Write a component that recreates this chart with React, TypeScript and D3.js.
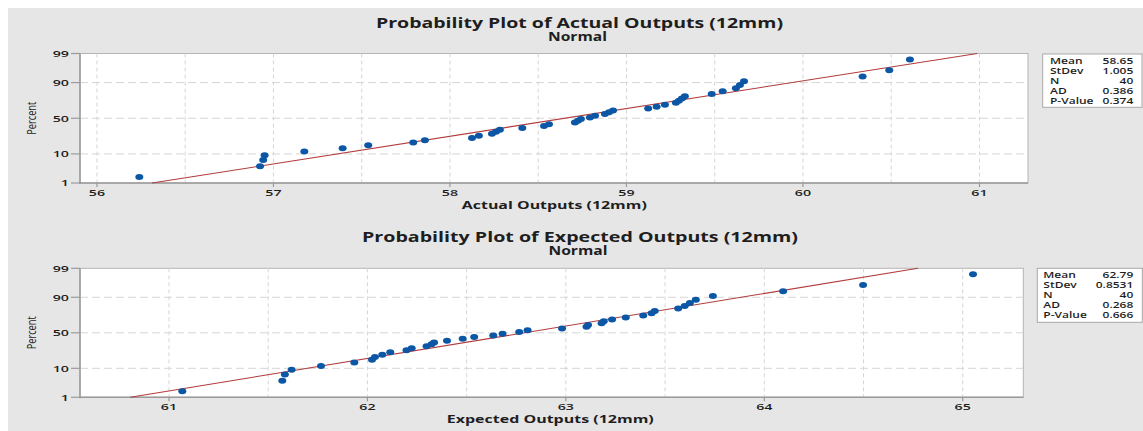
import React from 'react';
import * as d3 from 'd3';

// values (sorted, n = 40 each)
const actualOutputs = [
  56.24, 56.924, 56.942, 56.95, 57.175, 57.392, 57.537, 57.792, 57.858, 58.125,
  58.164, 58.238, 58.261, 58.283, 58.41, 58.533, 58.561, 58.708, 58.725, 58.742,
  58.793, 58.822, 58.878, 58.901, 58.924, 59.123, 59.171, 59.218, 59.28, 59.297,
  59.314, 59.331, 59.483, 59.545, 59.62, 59.643, 59.666, 60.338, 60.489, 60.606,
];
const expectedOutputs = [
  61.067, 61.571, 61.584, 61.618, 61.766, 61.934, 62.023, 62.038, 62.075, 62.115,
  62.197, 62.223, 62.298, 62.323, 62.336, 62.401, 62.48, 62.538, 62.634, 62.681,
  62.765, 62.807, 62.981, 63.104, 63.112, 63.18, 63.191, 63.233, 63.302, 63.39,
  63.432, 63.448, 63.566, 63.599, 63.625, 63.655, 63.741, 64.095, 64.498, 65.052,
];

const percentTicks = [1, 10, 50, 90, 99];
const percentGrid = [10, 50, 90];
const actualTicks = [56, 57, 58, 59, 60, 61];
const expectedTicks = [61, 62, 63, 64, 65];

const statLabels = ['Mean', 'StDev', 'N', 'AD', 'P-Value'];
const actualStats = ['58.65', '1.005', '40', '0.386', '0.374'];
const expectedStats = ['62.79', '0.8531', '40', '0.268', '0.666'];

// Acklam's inverse normal CDF, used for the probability axis
function normInv(p: number) {
  const a = [-3.969683028665376e1, 2.209460984245205e2, -2.759285104469687e2, 1.38357751867269e2, -3.066479806614716e1, 2.506628277459239];
  const b = [-5.447609879822406e1, 1.615858368580409e2, -1.556989798598866e2, 6.680131188771972e1, -1.328068155288572e1];
  const c = [-7.784894002430293e-3, -3.223964580411365e-1, -2.400758277161838, -2.549732539343734, 4.374664141464968, 2.938163982698783];
  const d = [7.784695709041462e-3, 3.224671290700398e-1, 2.445134137142996, 3.754408661907416];
  const pl = 0.02425;
  if (p < pl) {
    const q = Math.sqrt(-2 * Math.log(p));
    return (((((c[0] * q + c[1]) * q + c[2]) * q + c[3]) * q + c[4]) * q + c[5]) / ((((d[0] * q + d[1]) * q + d[2]) * q + d[3]) * q + 1);
  }
  if (p > 1 - pl) {
    const q = Math.sqrt(-2 * Math.log(1 - p));
    return -(((((c[0] * q + c[1]) * q + c[2]) * q + c[3]) * q + c[4]) * q + c[5]) / ((((d[0] * q + d[1]) * q + d[2]) * q + d[3]) * q + 1);
  }
  const q = p - 0.5;
  const r = q * q;
  return ((((((a[0] * r + a[1]) * r + a[2]) * r + a[3]) * r + a[4]) * r + a[5]) * q) / (((((b[0] * r + b[1]) * r + b[2]) * r + b[3]) * r + b[4]) * r + 1);
}

const FONT = "'Open Sans', 'DejaVu Sans', sans-serif";
const INK = '#1e1e1e';

// small text drawn wider than normal, like the stretched screenshot
const SText = ({ x, y, sx = 1.5, size, anchor = 'start', weight = 600, children }: any) => (
  <text
    transform={`translate(${x},${y}) scale(${sx},1)`}
    fontSize={size}
    fontWeight={weight}
    fontFamily={FONT}
    textAnchor={anchor}
    fill={INK}
  >
    {children}
  </text>
);

const ProbPlot = ({ data, ticks, stats, domain, plot, title, xLabel, lay }: any) => {
  const x = d3.scaleLinear().domain(domain).range([plot.x0, plot.x1]);
  const zScale = d3.scaleLinear().domain([normInv(0.01), normInv(0.99)]).range([plot.y1, plot.y0]);
  const y = (pct: number) => zScale(normInv(pct / 100));

  const n = data.length;
  // Benard median ranks, as Minitab plots them
  const points = data.map((v: number, i: number) => ({ v, pct: ((i + 1 - 0.3) / (n + 0.4)) * 100 }));

  const mean = +stats[0];
  const sd = +stats[1];
  const fit = [1, 99].map(p => [x(mean + normInv(p / 100) * sd), y(p)]);

  const vGrid = d3.range(Math.ceil(domain[0] * 2) / 2, domain[1], 0.5);

  const line = d3.line();

  return (
    <g>
      <text x={lay.titleX} y={lay.titleY} fontSize={14} fontWeight={700} fontFamily={FONT} fill={INK}
        textAnchor="middle" textLength={lay.titleW} lengthAdjust="spacingAndGlyphs">{title}</text>
      <text x={lay.titleX - 2} y={lay.titleY + 13} fontSize={11.5} fontWeight={700} fontFamily={FONT} fill={INK}
        textAnchor="middle" textLength={59} lengthAdjust="spacingAndGlyphs">Normal</text>

      <rect x={plot.x0} y={plot.y0} width={plot.x1 - plot.x0} height={plot.y1 - plot.y0}
        fill="#fff" stroke="#b4b4b4" strokeWidth={1} />

      {vGrid.map((g: number) => (
        <line key={'v' + g} x1={x(g)} x2={x(g)} y1={plot.y0} y2={plot.y1}
          stroke="#d6d6d6" strokeWidth={1} strokeDasharray="4,3" />
      ))}
      {percentGrid.map(p => (
        <line key={'h' + p} x1={plot.x0} x2={plot.x1} y1={y(p)} y2={y(p)}
          stroke="#d6d6d6" strokeWidth={1} strokeDasharray="8,4" />
      ))}

      {/* axes */}
      <line x1={plot.x0} x2={plot.x0} y1={plot.y0} y2={plot.y1 + 1} stroke="#9a9a9a" strokeWidth={1.5} />
      <line x1={plot.x0 - 1} x2={plot.x1} y1={plot.y1} y2={plot.y1} stroke="#9a9a9a" strokeWidth={1.5} />
      {percentTicks.map(p => (
        <g key={'yt' + p}>
          <line x1={plot.x0 - 9} x2={plot.x0} y1={y(p)} y2={y(p)} stroke="#9a9a9a" strokeWidth={1.2} />
          <SText x={plot.x0 - 11} y={y(p) + 3.4} size={9.5} anchor="end">{p}</SText>
        </g>
      ))}
      {ticks.map((t: number) => (
        <g key={'xt' + t}>
          <line x1={x(t)} x2={x(t)} y1={plot.y1} y2={plot.y1 + 4} stroke="#9a9a9a" strokeWidth={1.2} />
          <SText x={x(t)} y={lay.tickY} size={9.5} anchor="middle">{t}</SText>
        </g>
      ))}

      <text transform={`translate(31.5,${(plot.y0 + plot.y1) / 2}) scale(1.4,1) rotate(-90)`}
        fontSize={9.5} fontFamily={FONT} fill={INK} textAnchor="middle" dy="0.35em"
        textLength={33} lengthAdjust="spacingAndGlyphs">Percent</text>

      <text x={lay.xLabelX} y={lay.xLabelY} fontSize={11} fontWeight={700} fontFamily={FONT} fill={INK}
        textAnchor="middle" textLength={lay.xLabelW} lengthAdjust="spacingAndGlyphs">{xLabel}</text>

      <path d={line(fit as any) || ''} stroke="#b23c3c" strokeWidth={1.1} fill="none" />

      {points.map((d: any, i: number) => (
        <ellipse key={'p' + i} cx={x(d.v)} cy={y(d.pct)} rx={4} ry={3} fill="#0b57a6" />
      ))}

      {/* stats box */}
      <rect x={lay.box.x} y={lay.box.y} width={lay.box.w} height={lay.box.h}
        fill="#fff" stroke="#a8a8a8" strokeWidth={1} />
      {statLabels.map((s, i) => (
        <g key={'s' + s}>
          <SText x={lay.box.labelX} y={lay.box.y + 10 + i * 10} size={8}>{s}</SText>
          <SText x={lay.box.valueX} y={lay.box.y + 10 + i * 10} size={8} anchor="end">{stats[i]}</SText>
        </g>
      ))}
    </g>
  );
};

export default function App() {
  return (
    <svg width={1143} height={431} style={{ position: 'absolute', left: 0, top: 0, display: 'block' }}>
      <rect x={0} y={0} width={1143} height={431} fill="#fff" />
      <rect x={8} y={8} width={1135} height={423} fill="#e6e6e6" />
      <ProbPlot
        data={actualOutputs}
        ticks={actualTicks}
        stats={actualStats}
        domain={[55.904, 61.275]}
        plot={{ x0: 80, x1: 1028, y0: 53.5, y1: 183 }}
        title="Probability Plot of Actual Outputs (12mm)"
        xLabel="Actual Outputs (12mm)"
        lay={{
          titleX: 579.5, titleY: 28.3, titleW: 407,
          xLabelX: 554.3, xLabelY: 208.5, xLabelW: 185,
          tickY: 196,
          box: { x: 1042.7, y: 54, w: 99.3, h: 53.3, labelX: 1050, valueX: 1133.3 },
        }}
      />
      <ProbPlot
        data={expectedOutputs}
        ticks={expectedTicks}
        stats={expectedStats}
        domain={[60.5515, 65.3054]}
        plot={{ x0: 80, x1: 1023.3, y0: 268.3, y1: 397.3 }}
        title="Probability Plot of Expected Outputs (12mm)"
        xLabel="Expected Outputs (12mm)"
        lay={{
          titleX: 580, titleY: 241.7, titleW: 436,
          xLabelX: 550.3, xLabelY: 422.5, xLabelW: 207,
          tickY: 409.5,
          box: { x: 1037.3, y: 268.3, w: 105, h: 54, labelX: 1043.3, valueX: 1133.3 },
        }}
      />
    </svg>
  );
}
